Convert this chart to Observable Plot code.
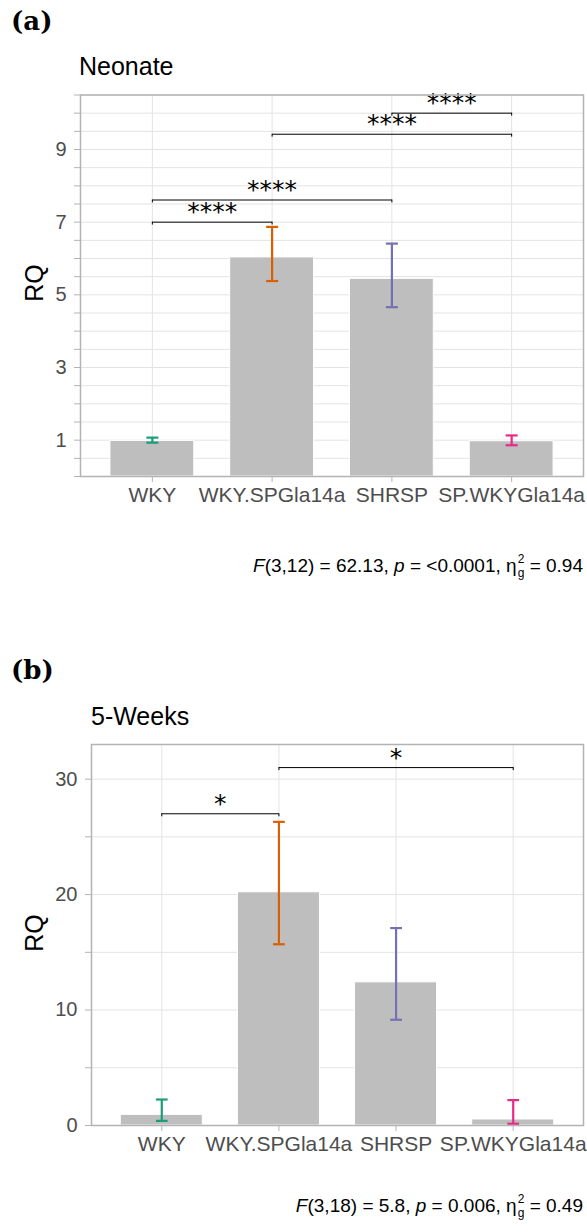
<!DOCTYPE html>
<html><head><meta charset="utf-8">
<script src="https://cdn.jsdelivr.net/npm/d3@7"></script>
<script src="https://cdn.jsdelivr.net/npm/@observablehq/plot@0.6"></script>
<style>
body{margin:0;background:#fff;}
#wrap{position:relative;width:587px;height:1232px;font-family:"Liberation Sans",Arial,sans-serif;overflow:hidden;}
.abs{position:absolute;white-space:nowrap;line-height:1;}
.tag{font-family:"DejaVu Serif",serif;font-weight:bold;font-size:26px;color:#000;}
.title{font-size:25px;color:#000;}
.ylab{font-size:25px;color:#000;width:60px;height:30px;line-height:30px;text-align:center;transform:rotate(-90deg);}
.cap{font-size:19px;color:#000;right:4px;}
.ss{position:relative;display:inline-block;width:9px;height:1em;margin:0 3px 0 1px;vertical-align:top;}
.ss .sp{position:absolute;left:0;top:-3px;font-size:12px;line-height:1;}
.ss .sb{position:absolute;left:0;top:11px;font-size:12px;line-height:1;}
.svgbox{position:absolute;left:0;}
</style></head><body><div id="wrap"></div>
<script>
const groups = ["WKY", "WKY.SPGla14a", "SHRSP", "SP.WKYGla14a"];
const errColors = ["#1B9E77", "#D95F02", "#7570B3", "#E7298A"];

// (a) Neonate
const neoMean = [0.98, 6.03, 5.44, 0.97];
const neoLow  = [0.93, 5.38, 4.66, 0.86];
const neoHigh = [1.07, 6.87, 6.41, 1.13];
const neoPairs = [[1, 2], [1, 3], [2, 4], [3, 4]];
const neoPairY = [7.0, 7.61, 9.42, 10.0];
const neoPairLabels = ["****", "****", "****", "****"];
const neoTickLabels = [1, 3, 5, 7, 9];
const neoTicks = [0, 0.5, 1, 1.5, 2, 2.5, 3, 3.5, 4, 4.5, 5, 5.5, 6, 6.5, 7, 7.5, 8, 8.5, 9, 9.5, 10, 10.5];

// (b) 5-Weeks
const wkMean = [0.92, 20.2, 12.4, 0.52];
const wkLow  = [0.4, 15.7, 9.16, 0.15];
const wkHigh = [2.25, 26.3, 17.1, 2.2];
const wkPairs = [[1, 2], [2, 4]];
const wkPairY = [27.0, 31.0];
const wkPairLabels = ["*", "*"];
const wkTickLabels = [0, 10, 20, 30];
const wkTicks = [0, 5, 10, 15, 20, 25, 30];

function panel(o) {
  const data = groups.map((g, i) => ({g, i: i + 1, mean: o.mean[i], lo: o.low[i], hi: o.high[i], c: errColors[i]}));
  const cmp = o.pairs.map((p, k) => ({a: p[0], b: p[1], y: o.pairY[k], label: o.pairLabels[k]}));
  const grid = "#E3E3E3";
  return Plot.plot({
    width: 587, height: o.height,
    marginLeft: o.marginLeft, marginRight: 4, marginTop: o.marginTop, marginBottom: o.marginBottom,
    style: {fontFamily: "Liberation Sans, Arial, sans-serif", fontSize: "20px", background: "transparent", overflow: "visible"},
    x: {domain: [0.4, 4.6]},
    y: {domain: [0, o.yMax]},
    color: {type: "identity"},
    marks: [
      Plot.ruleY(o.ticks, {stroke: grid, strokeWidth: 1}),
      Plot.ruleX([1, 2, 3, 4], {stroke: grid, strokeWidth: 1}),
      Plot.rectY(data, {x1: d => d.i - 0.35, x2: d => d.i + 0.35, y1: 0, y2: "mean", fill: "#BEBEBE", stroke: "#FFFFFF", strokeWidth: 1}),
      Plot.ruleX(data, {x: "i", y1: "lo", y2: "hi", stroke: "c", strokeWidth: 2.2}),
      Plot.link(data, {x1: d => d.i - 0.05, x2: d => d.i + 0.05, y1: "hi", y2: "hi", stroke: "c", strokeWidth: 2.2}),
      Plot.link(data, {x1: d => d.i - 0.05, x2: d => d.i + 0.05, y1: "lo", y2: "lo", stroke: "c", strokeWidth: 2.2}),
      Plot.link(cmp, {x1: "a", x2: "b", y1: "y", y2: "y", stroke: "#000", strokeWidth: 1}),
      Plot.ruleX(cmp, {x: "a", y1: "y", y2: d => d.y - o.tip, stroke: "#000", strokeWidth: 1}),
      Plot.ruleX(cmp, {x: "b", y1: "y", y2: d => d.y - o.tip, stroke: "#000", strokeWidth: 1}),
      Plot.text(cmp, {x: d => (d.a + d.b) / 2, y: "y", text: "label", dy: -10, fontSize: 25, fontFamily: "DejaVu Sans", fill: "#000"}),
      Plot.frame({stroke: "#B3B3B3", strokeWidth: 1.5}),
      Plot.axisY({ticks: o.ticks, tickFormat: d => o.tickLabels.includes(d) ? String(d) : "", tickSize: 6, tickPadding: 8, stroke: "#B3B3B3", fill: "#4D4D4D", fontSize: 20, label: null}),
      Plot.axisX({ticks: [1, 2, 3, 4], tickFormat: d => groups[d - 1], tickSize: 6, tickPadding: 5, stroke: "#B3B3B3", fill: "#4D4D4D", fontSize: 21, label: null})
    ]
  });
}

const wrap = document.getElementById("wrap");
function addHTML(cls, html, left, top) {
  const d = document.createElement("div");
  d.className = "abs " + cls;
  d.innerHTML = html;
  if (left !== null) d.style.left = left + "px";
  d.style.top = top + "px";
  wrap.appendChild(d);
}
function addSvg(svg, top) {
  const box = document.createElement("div");
  box.className = "svgbox";
  box.style.top = top + "px";
  box.appendChild(svg);
  wrap.appendChild(box);
}

addSvg(panel({mean: neoMean, low: neoLow, high: neoHigh, pairs: neoPairs, pairY: neoPairY, pairLabels: neoPairLabels,
  yMax: 10.5, ticks: neoTicks, tickLabels: neoTickLabels, tip: 0.08, marginLeft: 80, height: 440, marginTop: 14.5, marginBottom: 44}), 80);
addSvg(panel({mean: wkMean, low: wkLow, high: wkHigh, pairs: wkPairs, pairY: wkPairY, pairLabels: wkPairLabels,
  yMax: 33, ticks: wkTicks, tickLabels: wkTickLabels, tip: 0.26, marginLeft: 91, height: 430, marginTop: 14, marginBottom: 35}), 730);

const eta = "η<span class='ss'><span class='sp'>2</span><span class='sb'>g</span></span>";
addHTML("tag", "(a)", 11, 8);
addHTML("title", "Neonate", 79, 54);
addHTML("ylab", "RQ", 4, 268);
addHTML("cap", "<i>F</i>(3,12) = 62.13, <i>p</i> = &lt;0.0001, " + eta + "= 0.94", null, 556);

addHTML("tag", "(b)", 11, 657);
addHTML("title", "5-Weeks", 91, 704);
addHTML("ylab", "RQ", 4, 918);
addHTML("cap", "<i>F</i>(3,18) = 5.8, <i>p</i> = 0.006, " + eta + "= 0.49", null, 1196);
</script></body></html>
